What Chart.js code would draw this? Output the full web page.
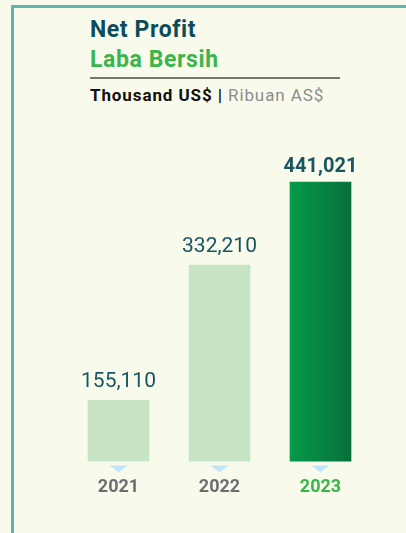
<!DOCTYPE html>
<html>
<head>
<meta charset="utf-8">
<script src="https://cdn.jsdelivr.net/npm/chart.js@4"></script>
<style>
    body { margin: 0; background: #f8fbec; font-family: Roboto, sans-serif; }
    #wrap { position: relative; width: 406px; height: 533px; overflow: hidden; }
    #frame { position: absolute; left: 11px; top: 5px; right: -10px; bottom: -10px;
             border-left: 3px solid #5fb3b3; border-top: 3px solid #5fb3b3; }
    #head { position: absolute; left: 90px; top: 15px; width: 250px; }
    .t1 { font-size: 23px; font-weight: 700; color: #0d4b5a; line-height: 30px; letter-spacing: 0.6px; }
    .t2 { font-size: 23px; font-weight: 700; color: #3bb54a; line-height: 30px; letter-spacing: 0.6px; }
    .rule { margin-top: 2px; border-top: 2px solid #77786b; width: 250px; }
    .unit { font-size: 17px; line-height: 22px; margin-top: 5px; color: #111; letter-spacing: 0.9px; }
    .unit b { font-weight: 700; }
    .unit span { color: #8c8c8c; }
    canvas { position: absolute; left: 0; top: 0; }
</style>
</head>
<body>
<div id="wrap">
    <div id="frame"></div>
    <div id="head">
        <div class="t1">Net Profit</div>
        <div class="t2">Laba Bersih</div>
        <div class="rule"></div>
        <div class="unit"><b>Thousand US$ |</b> <span>Ribuan AS$</span></div>
    </div>
    <canvas id="chart" width="406" height="533"></canvas>
</div>
<script>
const years = ["2021", "2022", "2023"];
const netProfit = [155110, 332210, 441021];

// small marker + value label plugin
const markers = {
    id: "markers",
    afterDatasetsDraw(chart) {
        const ctx = chart.ctx;
        const meta = chart.getDatasetMeta(0);
        const bottom = chart.chartArea.bottom;
        ctx.save();
        meta.data.forEach((bar, i) => {
            // triangle under bar
            ctx.fillStyle = "#bfe5f7";
            ctx.beginPath();
            ctx.moveTo(bar.x - 9, bottom + 4);
            ctx.lineTo(bar.x + 9, bottom + 4);
            ctx.lineTo(bar.x, bottom + 11);
            ctx.closePath();
            ctx.fill();

            // value label
            const last = i === meta.data.length - 1;
            ctx.fillStyle = "#1b5463";
            ctx.font = (last ? "700 20px" : "400 21px") + " Roboto";
            ctx.textAlign = "center";
            ctx.textBaseline = "alphabetic";
            ctx.fillText(netProfit[i].toLocaleString("en-US"), bar.x, bar.y - (last ? 10 : 13));
        });
        ctx.restore();
    }
};

new Chart(document.getElementById("chart"), {
    type: "bar",
    data: {
        labels: years,
        datasets: [{
            data: netProfit,
            barThickness: 61,
            borderWidth: 0,
            backgroundColor: (c) => {
                if (c.dataIndex !== 2) return "#c7e4c4";
                const xs = c.chart.scales.x;
                if (!xs) return "#08884a";
                const cx = xs.getPixelForValue(2);
                const g = c.chart.ctx.createLinearGradient(cx - 31, 0, cx + 31, 0);
                g.addColorStop(0, "#069b4b");
                g.addColorStop(1, "#076f39");
                return g;
            }
        }]
    },
    options: {
        responsive: false,
        animation: false,
        events: [],
        layout: { padding: { left: 68, right: 35, top: 99, bottom: 28 } },
        plugins: { legend: { display: false }, tooltip: { enabled: false } },
        scales: {
            x: {
                grid: { display: false },
                border: { display: false },
                ticks: {
                    padding: 7,
                    color: ["#6d6e70", "#6d6e70", "#3bb54a"],
                    font: { family: "Roboto", size: 18, weight: "700" }
                }
            },
            y: {
                display: false,
                min: 75000,
                max: 550000
            }
        }
    },
    plugins: [markers]
});
</script>
</body>
</html>
